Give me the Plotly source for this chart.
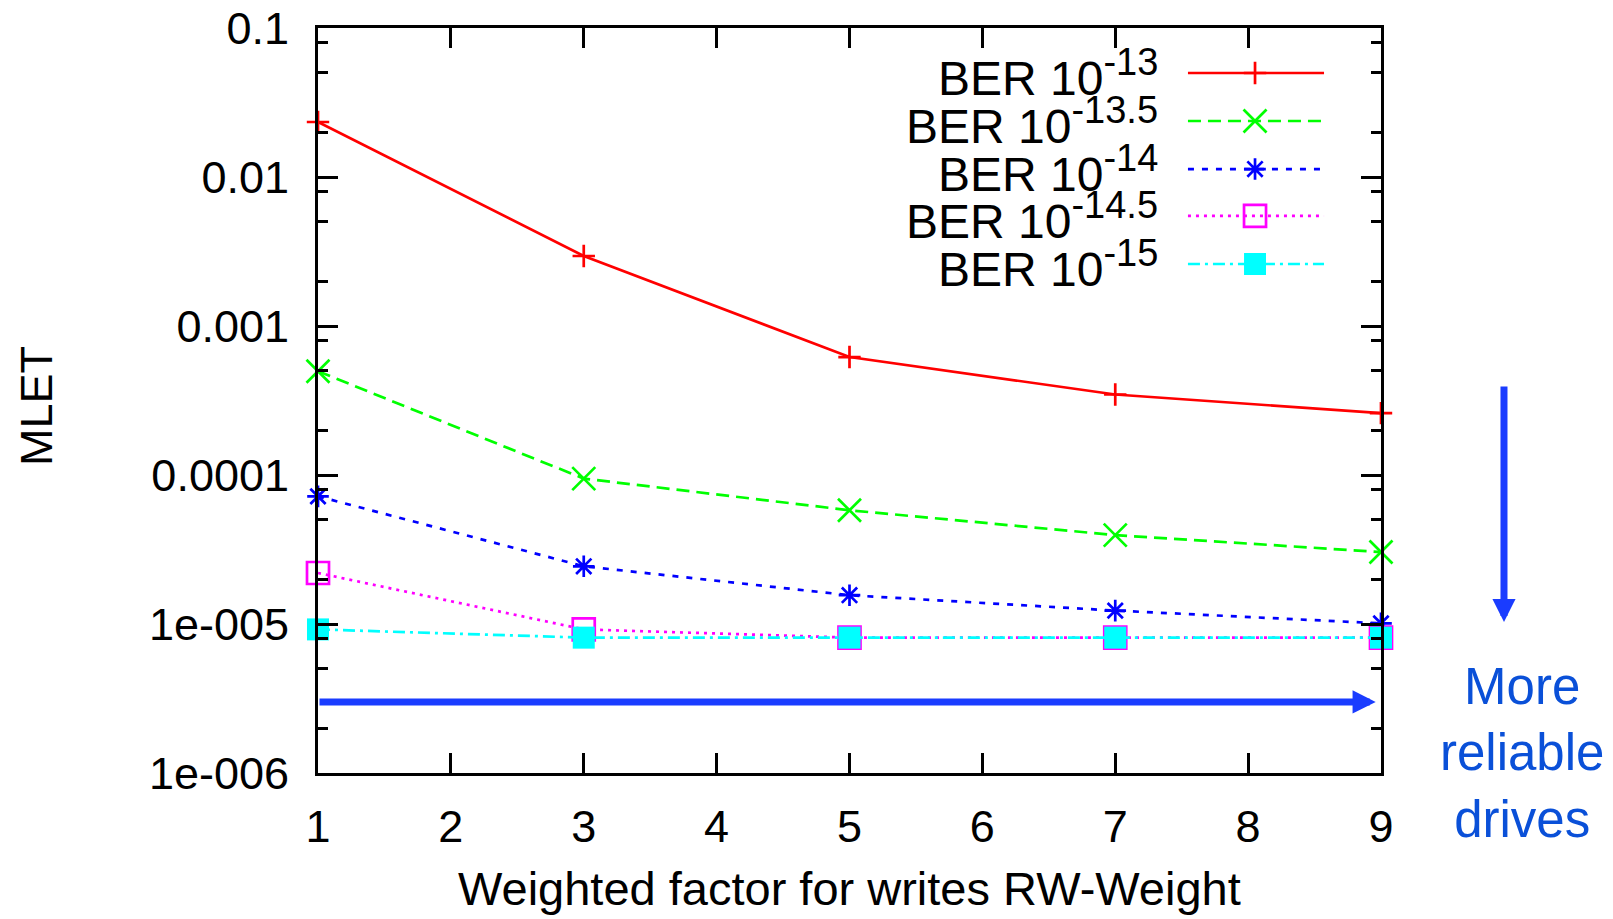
import math
import plotly.graph_objects as go

# ---------------- data ----------------
x_vals = [1, 3, 5, 7, 9]
ber_13 = [0.0234, 0.00295, 0.000619, 0.000347, 0.00026]
ber_13_5 = [0.000497, 9.46e-5, 5.8e-5, 3.95e-5, 3.04e-5]
ber_14 = [7.19e-5, 2.44e-5, 1.56e-5, 1.23e-5, 1.01e-5]
ber_14_5 = [2.2e-5, 9.2e-6, 8.1e-6, 8.1e-6, 8.1e-6]
ber_15 = [9.2e-6, 8.1e-6, 8.1e-6, 8.1e-6, 8.1e-6]

ber_exponents = ["-13", "-13.5", "-14", "-14.5", "-15"]
series_values = [ber_13, ber_13_5, ber_14, ber_14_5, ber_15]

x_tick_vals = [1, 2, 3, 4, 5, 6, 7, 8, 9]
y_tick_vals = [1e-6, 1e-5, 1e-4, 1e-3, 1e-2, 1e-1]
y_tick_text = ["1e-006", "1e-005", "0.0001", "0.001", "0.01", "0.1"]
y_minor_vals = [m * d for d in [1e-6, 1e-5, 1e-4, 1e-3, 1e-2] for m in (2, 5, 8)]

arrow_level = 3e-6     # horizontal arrow level (MLET)
arrow_end_x = 8.96     # horizontal arrow tip (RW-Weight)

# ---------------- styles ----------------
colors = ["#ff0000", "#00ff00", "#0000ff", "#ff00ff", "#00ffff"]
dashes = ["solid", "13px,7px", "6px,8px", "3px,5px", "12px,5px,3px,5px"]
symbols = ["cross-thin", "x-thin", "asterisk", "square-open", "square"]
msizes = [16, 23, 18, 22, 22]
FONT = "Liberation Sans, Arial, Helvetica, sans-serif"
ARROW_COLOR = "#1a3cff"
TEXT_BLUE = "#0a50d8"
LW = 2.7

series_labels = ['BER 10<sup><span style="font-size:38px">%s</span></sup>' % e
                 for e in ber_exponents]

fig = go.Figure()
for vals, c, d, s, ms, name in zip(series_values, colors, dashes, symbols, msizes, series_labels):
    fig.add_trace(go.Scatter(
        x=x_vals, y=vals, mode="lines+markers", name=name,
        line=dict(color=c, width=LW, dash=d),
        marker=dict(symbol=s, size=ms, color=c,
                    line=dict(color=c, width=0 if s == "square" else LW)),
        cliponaxis=False, showlegend=False,
    ))

# ---------------- custom gnuplot-style key ----------------
key_rows_y = [0.9396, 0.8752, 0.8107, 0.7477, 0.6832]   # paper fractions
key_x0, key_x1, key_xm, key_text_x = 0.8184, 0.9464, 0.8815, 0.792
for ry, c, d, s, ms, name in zip(key_rows_y, colors, dashes, symbols, msizes, series_labels):
    fig.add_shape(type="line", xref="paper", yref="paper", x0=key_x0, x1=key_x1, y0=ry, y1=ry,
                  line=dict(color=c, width=LW, dash=d))
    fig.add_trace(go.Scatter(
        x=[key_xm], y=[ry], xaxis="x2", yaxis="y2", mode="markers",
        marker=dict(symbol=s, size=ms, color=c,
                    line=dict(color=c, width=0 if s == "square" else LW)),
        showlegend=False, hoverinfo="skip", cliponaxis=False,
    ))
    fig.add_annotation(xref="paper", yref="paper", x=key_text_x, y=ry,
                       text=name, showarrow=False, xanchor="right", yanchor="middle",
                       font=dict(size=48, color="black", family=FONT))

# ---------------- arrows and note ----------------
fig.add_annotation(x=arrow_end_x, y=math.log10(arrow_level), xref="x", yref="y",
                   ax=x_vals[0], ay=math.log10(arrow_level), axref="x", ayref="y",
                   showarrow=True, arrowhead=2, arrowwidth=7, arrowsize=0.66,
                   arrowcolor=ARROW_COLOR, text="", standoff=0, startstandoff=0)
fig.add_annotation(x=1.1157, y=0.2027, xref="paper", yref="paper",
                   ax=0, ay=-237, showarrow=True, arrowhead=2, arrowwidth=7, arrowsize=0.66,
                   arrowcolor=ARROW_COLOR, text="", standoff=0, startstandoff=0)
fig.add_annotation(x=1.1326, y=0.0268, xref="paper", yref="paper",
                   text="More<br>reliable<br>drives", showarrow=False,
                   xanchor="center", yanchor="middle",
                   font=dict(size=51, color=TEXT_BLUE, family=FONT))

# axis titles as annotations for exact placement
fig.add_annotation(x=0.5, y=-0.1544, xref="paper", yref="paper",
                   text="Weighted factor for writes RW-Weight", showarrow=False,
                   xanchor="center", yanchor="middle",
                   font=dict(size=47, color="black", family=FONT))
fig.add_annotation(x=-0.2653, y=0.4926, xref="paper", yref="paper",
                   text="MLET", showarrow=False, textangle=-90,
                   xanchor="center", yanchor="middle",
                   font=dict(size=45, color="black", family=FONT))

axis_common = dict(showline=True, linecolor="black", linewidth=3, mirror="ticks",
                   ticks="inside", tickcolor="black", tickwidth=2.5, showgrid=False,
                   zeroline=False, ticklabeloverflow="allow", automargin=False)

# the page body adds an 8 px offset; margins compensate so the plot frame
# sits at x 318..1381, y 28..773 in the browser window
fig.update_layout(
    width=1613, height=919,
    margin=dict(l=310, r=240, t=20, b=154, autoexpand=False),
    paper_bgcolor="white", plot_bgcolor="white",
    font=dict(family=FONT, color="black", size=45),
    xaxis=dict(range=[1, 9], tickvals=x_tick_vals, ticklen=20,
               tickfont=dict(size=45), ticklabelstandoff=12,
               **axis_common),
    yaxis=dict(type="log", range=[-6, -1], tickvals=y_tick_vals, ticktext=y_tick_text,
               ticklen=20, tickfont=dict(size=45), ticklabelstandoff=17,
               minor=dict(tickvals=y_minor_vals, ticklen=10, ticks="inside",
                          tickcolor="black", tickwidth=2.5, showgrid=False),
               **axis_common),
    xaxis2=dict(range=[0, 1], overlaying="x", visible=False, fixedrange=True),
    yaxis2=dict(range=[0, 1], overlaying="y", visible=False, fixedrange=True),
)

fig.write_html("out.html")
